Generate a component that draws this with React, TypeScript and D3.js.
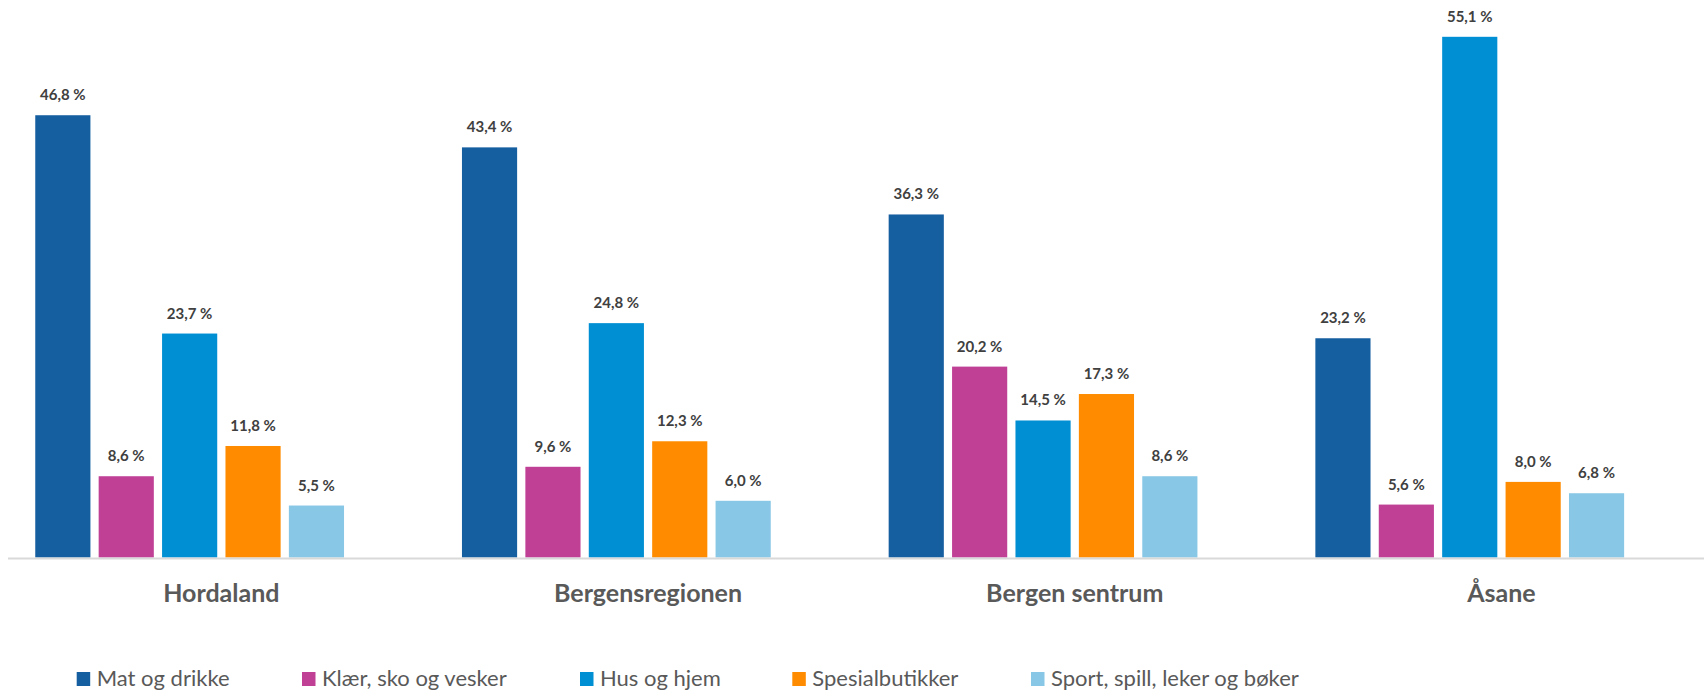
import React from "react";
import * as d3 from "d3";

const categories = ["Hordaland", "Bergensregionen", "Bergen sentrum", "Åsane"];
const seriesNames = [
  "Mat og drikke",
  "Klær, sko og vesker",
  "Hus og hjem",
  "Spesialbutikker",
  "Sport, spill, leker og bøker",
];
const seriesColors = ["#155EA0", "#C04096", "#008FD3", "#FF8C00", "#88C7E5"];
const matOgDrikke = [46.8, 43.4, 36.3, 23.2];
const klaer = [8.6, 9.6, 20.2, 5.6];
const husOgHjem = [23.7, 24.8, 14.5, 55.1];
const spesial = [11.8, 12.3, 17.3, 8.0];
const sport = [5.5, 6.0, 8.6, 6.8];
const seriesValues = [matOgDrikke, klaer, husOgHjem, spesial, sport];
// Excel chart has an empty 6th slot in each cluster
const slots = ["s0", "s1", "s2", "s3", "s4", "empty"];
const legendX = [76.7, 302, 580, 792.3, 1031];

const W = 1704;
const H = 690;
const baseY = 557.5;
const pxPerUnit = 9.45;

export default function App() {
  const x0 = d3
    .scaleBand<string>()
    .domain(categories)
    .range([8, 8 + 4 * 426.7])
    .paddingInner(0)
    .paddingOuter(0);
  const x1 = d3
    .scaleBand<string>()
    .domain(slots)
    .range([0, x0.bandwidth()])
    .paddingInner(0.13)
    .paddingOuter(0.43);
  const yMax = 59;
  const y = d3.scaleLinear().domain([0, yMax]).range([baseY, baseY - yMax * pxPerUnit]);
  const fmt = (v: number) => v.toFixed(1).replace(".", ",") + " %";

  return (
    <svg
      width={W}
      height={H}
      style={{ position: "absolute", left: 0, top: 0, background: "#fff" }}
      fontFamily="Lato, 'Open Sans', sans-serif"
    >
      <rect x={0} y={0} width={W} height={H} fill="#fff" />
      {categories.map((c, ci) => (
        <g key={c} transform={`translate(${x0(c)},0)`}>
          {seriesValues.map((vals, si) => {
            const v = vals[ci];
            const bx = x1(slots[si])!;
            const bw = x1.bandwidth();
            return (
              <g key={si}>
                <rect x={bx} y={y(v)} width={bw} height={baseY - y(v)} fill={seriesColors[si]} />
                <text
                  x={bx + bw / 2}
                  y={y(v) - 15}
                  textAnchor="middle"
                  fontSize={15}
                  fontWeight={700}
                  fill="#404040"
                >
                  {fmt(v)}
                </text>
              </g>
            );
          })}
          <text
            x={x0.bandwidth() / 2}
            y={602}
            textAnchor="middle"
            fontSize={25}
            fontWeight={700}
            fill="#595959"
          >
            {c}
          </text>
        </g>
      ))}
      <line x1={8} x2={W} y1={558.5} y2={558.5} stroke="#D9D9D9" strokeWidth={2} />
      {seriesNames.map((n, i) => (
        <g key={n} transform={`translate(${legendX[i]},0)`}>
          <rect x={0} y={672} width={13.5} height={14} fill={seriesColors[i]} />
          <text x={20} y={686} fontSize={22} fill="#595959">
            {n}
          </text>
        </g>
      ))}
    </svg>
  );
}
